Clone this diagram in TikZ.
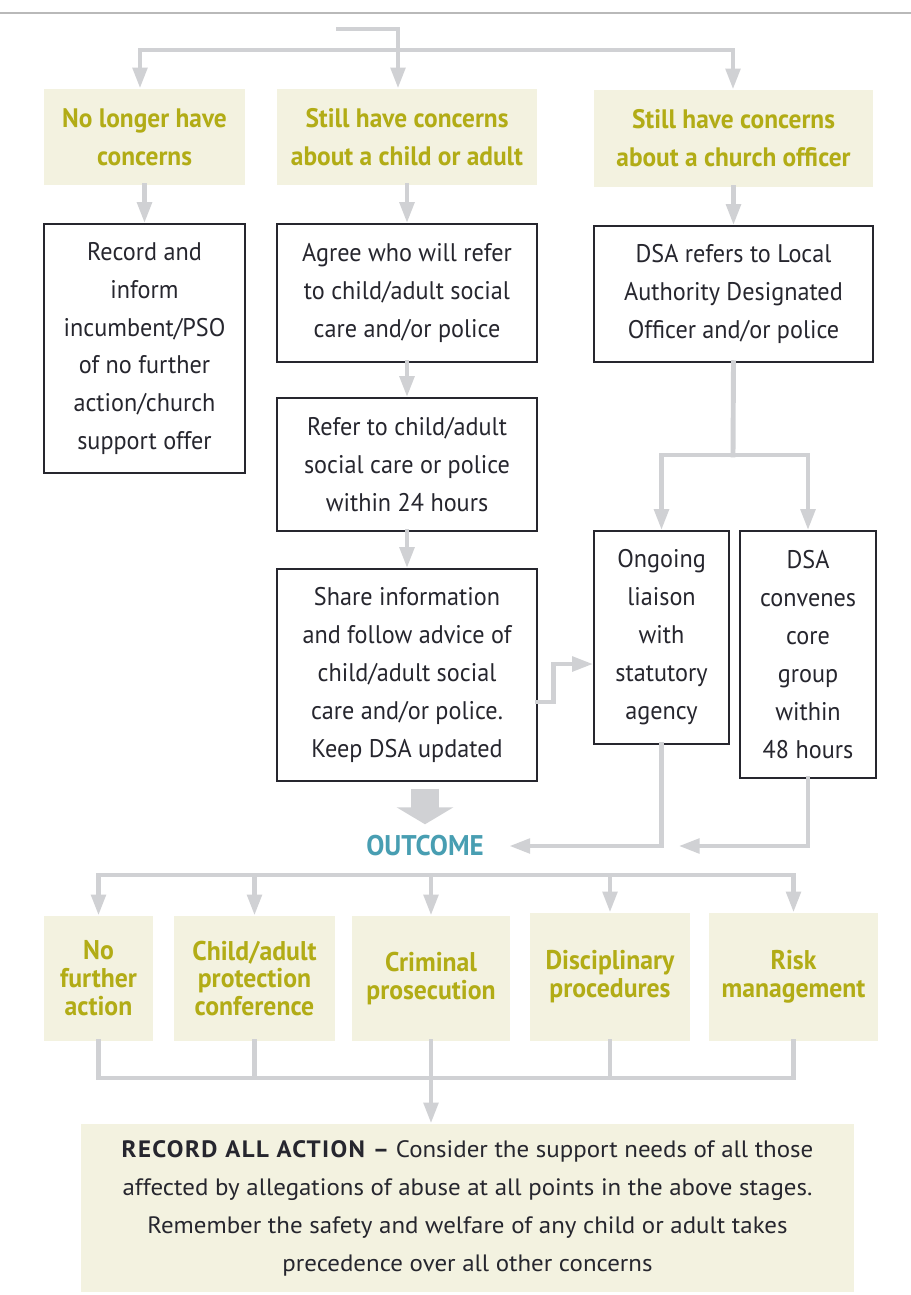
\documentclass[tikz,border=0pt]{standalone}
\usepackage{fontspec}
\setmainfont[FakeStretch=0.95]{PT Sans}
\newfontfamily\finalfont[FakeStretch=1.05, Ligatures=TeX]{PT Sans}
\usepackage{tikz}
\usetikzlibrary{
  positioning,
  calc,
  arrows.meta
}
\definecolor{connGray}{RGB}{208,209,212}
\definecolor{headFill}{RGB}{243,242,224}
\definecolor{headText}{RGB}{178,172,22}
\definecolor{outText}{RGB}{72,158,178}
\definecolor{bodyText}{RGB}{38,38,46}
\definecolor{ruleGray}{RGB}{185,185,185}
\def\px{0.02cm}
\tikzstyle{head}=[fill=headFill, text=headText, font=\fontsize{15.2}{21.6}\selectfont\bfseries, align=center, inner sep=0pt]
\tikzstyle{outbox}=[head, font=\fontsize{15.4}{15.9}\selectfont\bfseries]
\tikzstyle{box}=[draw=bodyText, line width=0.8pt, fill=white, text=bodyText, font=\fontsize{14.5}{21.6}\selectfont, align=center, inner sep=0pt]
\tikzstyle{final}=[fill=headFill, text=bodyText, font=\finalfont\fontsize{13.5}{21.6}\selectfont, align=center, inner sep=0pt]
\tikzstyle{bar}=[draw=connGray, line width=2.8pt, line cap=rect]
\tikzstyle{conn}=[bar, -{Triangle[width=8pt,length=12pt]}]
\tikzstyle{bigarrow}=[draw=connGray, line width=0.56cm, -{Triangle[width=1.12cm,length=0.34cm]}]

\begin{document}
\begin{tikzpicture}[x=0.02cm, y=-0.02cm]
    % 描画範囲
    \path[use as bounding box, fill=white] (0,0) rectangle (911,1295);

    % 上の罫線
    \draw[ruleGray, line width=0.6pt] (0,13) -- (911,13);

    % 見出しの描画
    \node[head, minimum width=201*\px, minimum height=96*\px] (HA) at (144.5,137) {No longer have\\concerns};
    \node[head, minimum width=260*\px, minimum height=96*\px] (HB) at (407,137) {Still have concerns\\about a child or adult};
    \node[head, minimum width=279*\px, minimum height=97*\px] (HC) at (733.5,138.5) {Still have concerns\\about a church officer};

    % 手順の箱
    \node[box, minimum width=201*\px, minimum height=249*\px] (RA) at (144.5,348.5) {Record and\\inform\\incumbent/PSO\\of no further\\action/church\\support offer};
    \node[box, minimum width=260*\px, minimum height=138*\px] (RB) at (407,293) {Agree who will refer\\to child/adult social\\care and/or police};
    \node[box, minimum width=260*\px, minimum height=133*\px] (RC) at (407,464.5) {Refer to child/adult\\social care or police\\within 24 hours};
    \node[box, minimum width=260*\px, minimum height=212*\px] (RD) at (407,675) {Share information\\and follow advice of\\child/adult social\\care and/or police.\\Keep DSA updated};
    \node[box, minimum width=279*\px, minimum height=136*\px] (RE) at (733.5,294) {DSA refers to Local\\Authority Designated\\Officer and/or police};
    \node[box, minimum width=135*\px, minimum height=213*\px] (RF) at (661.5,637.5) {Ongoing\\liaison\\with\\statutory\\agency};
    \node[box, minimum width=136*\px, minimum height=247*\px] (RG) at (808,654.5) {DSA\\convenes\\core\\group\\within\\48 hours};

    % 結果
    \node[text=outText, font=\fontsize{16.2}{18}\selectfont\bfseries, inner sep=0pt] (OUT) at (425,846) {OUTCOME};

    % 結果の箱
    \node[outbox, minimum width=109*\px, minimum height=125*\px] (OA) at (98.5,978.5) {No\\further\\action};
    \node[outbox, minimum width=161*\px, minimum height=125*\px] (OB) at (254.5,978.5) {Child/adult\\protection\\conference};
    \node[outbox, minimum width=158*\px, minimum height=125*\px] (OC) at (431,978.5) {Criminal\\prosecution};
    \node[outbox, minimum width=160*\px, minimum height=128*\px] (OD) at (610,977) {Disciplinary\\procedures};
    \node[outbox, minimum width=169*\px, minimum height=128*\px] (OE) at (793.5,977) {Risk\\management};

    % 最後の箱
    \node[final, minimum width=773*\px, minimum height=168*\px] (FN) at (467.5,1208) {{\bfseries\addfontfeatures{LetterSpace=6}RECORD ALL ACTION \textendash} Consider the support needs of all those\\affected by allegations of abuse at all points in the above stages.\\Remember the safety and welfare of any child or adult takes\\precedence over all other concerns};

    % 入口の矢印
    \coordinate (S) at (338,29);
    \coordinate (J) at (398,50);
    \coordinate (JL) at (140,50);
    \coordinate (JR) at (733,50);
    \draw[bar] (S) -| (J);
    \draw[bar] (JL) -- (JR);
    \draw[conn] (JL) -- (JL |- HA.north);
    \draw[conn] (J) -- (J |- HB.north);
    \draw[conn] (JR) -- (JR |- HC.north);

    % 見出しから箱へ
    \draw[conn] (HA.south) -- (RA.north);
    \draw[conn] (HB.south) -- (RB.north);
    \draw[conn] (HC.south) -- (RE.north);
    \draw[conn] (RB.south) -- (RC.north);
    \draw[conn] (RC.south) -- (RD.north);

    % 分岐
    \coordinate (K) at (733,455);
    \draw[bar] (RE.south) -- (K);
    \draw[conn] (K) -| (RF.north);
    \draw[conn] (K) -| (RG.north);

    % 共有から連絡へ
    \draw[conn] ([yshift=-27*\px]RD.east) -- ++(16,0) |- ([yshift=-26.5*\px]RF.west);

    % 結果への矢印
    \draw[bigarrow] ($(OUT.north |- RD.south)+(0,7)$) -- ($(OUT.north)+(0,-11)$);
    \draw[conn] (RF.south) |- ([xshift=0.5cm]OUT.east);
    \draw[conn] (RG.south) |- ([xshift=0.34cm]RF.south |- OUT.east);

    % 結果の分配
    \coordinate (D) at (0,875);
    \draw[bar] (OA.north |- D) -- (OE.north |- D);
    \draw[conn] (OA.north |- D) -- (OA.north);
    \draw[conn] (OB.north |- D) -- (OB.north);
    \draw[conn] (OC.north |- D) -- (OC.north);
    \draw[conn] (OD.north |- D) -- (OD.north);
    \draw[conn] (OE.north |- D) -- (OE.north);

    % 結果の集約
    \coordinate (C) at (0,1078);
    \draw[bar] (OA.south |- C) -- (OE.south |- C);
    \draw[bar] (OA.south) -- (OA.south |- C);
    \draw[bar] (OB.south) -- (OB.south |- C);
    \draw[bar] (OC.south) -- (OC.south |- C);
    \draw[bar] (OD.south) -- (OD.south |- C);
    \draw[bar] (OE.south) -- (OE.south |- C);
    \draw[conn] (OC.south |- C) -- (OC.south |- FN.north);
\end{tikzpicture}
\end{document}
